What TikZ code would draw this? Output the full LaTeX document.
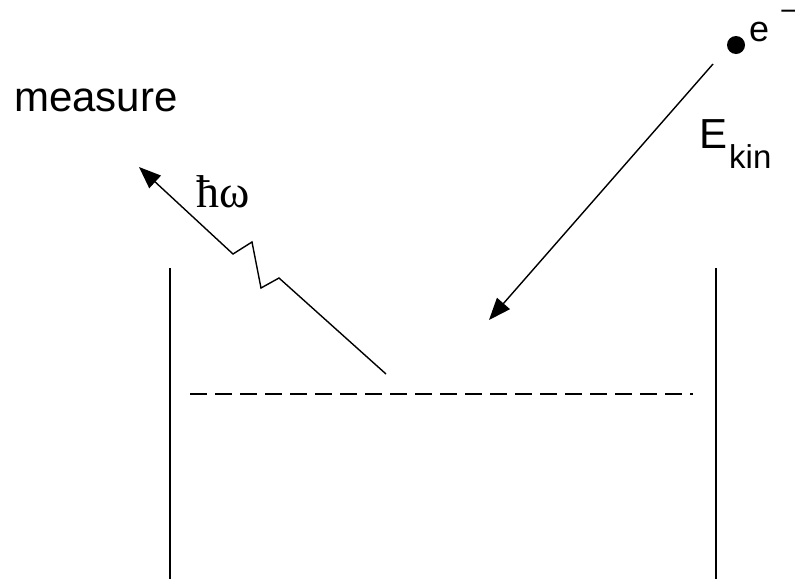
\documentclass[tikz,border=0pt]{standalone}
\usepackage{fontspec}
\setmainfont{Liberation Sans}
\newfontfamily\symfont{Liberation Serif}
\usetikzlibrary{arrows.meta}
\begin{document}
\begin{tikzpicture}[x=1pt,y=-1pt,
  wall/.style={line width=1.4pt},
  ray/.style={line width=1.4pt,-{Triangle[length=22pt,width=17pt]}},
  lbl/.style={inner sep=0pt,anchor=base west},
  ]
\useasboundingbox (0,0) rectangle (805,579);
% walls
\coordinate (lt) at (170,268); \coordinate (lb) at (170,579);
\coordinate (rt) at (716,268); \coordinate (rb) at (716,579);
\draw[wall] (lt) -- (lb);
\draw[wall] (rt) -- (rb);
% dashed level
\coordinate (dl) at (190,394); \coordinate (dr) at (693,394);
\draw[line width=1.4pt,dash pattern=on 17pt off 8pt] (dl) -- (dr);
% photon
\coordinate (ps) at (386,374);
\coordinate (z1) at (279,278);
\coordinate (z2) at (261,288);
\coordinate (z3) at (252,242);
\coordinate (z4) at (233,254);
\coordinate (pt) at (139,167);
\draw[ray,line join=miter] (ps) -- (z1) -- (z2) -- (z3) -- (z4) -- (pt);
% electron
\node[circle,fill=black,minimum width=18pt,minimum height=18pt,inner sep=0pt] (el) at (736,45) {};
\coordinate (es) at (713,64);
\coordinate (et) at (489,320);
\draw[ray] (es) -- (et);
% labels
\node[lbl,font=\fontsize{42}{42}\selectfont] (meas) at (14,111) {measure};
\node[lbl,font=\symfont\fontsize{46}{46}\selectfont] (hw) at (196,207) {ħω};
\node[lbl,font=\fontsize{42}{42}\selectfont] (E) at (699,148) {E};
\node[lbl,font=\fontsize{33}{33}\selectfont] (kin) at (729,168) {kin};
\node[lbl,font=\fontsize{36}{36}\selectfont] (e) at (749,41) {e};
\node[lbl,font=\fontsize{28}{28}\selectfont] (minus) at (780,20) {−};
\end{tikzpicture}
\end{document}
